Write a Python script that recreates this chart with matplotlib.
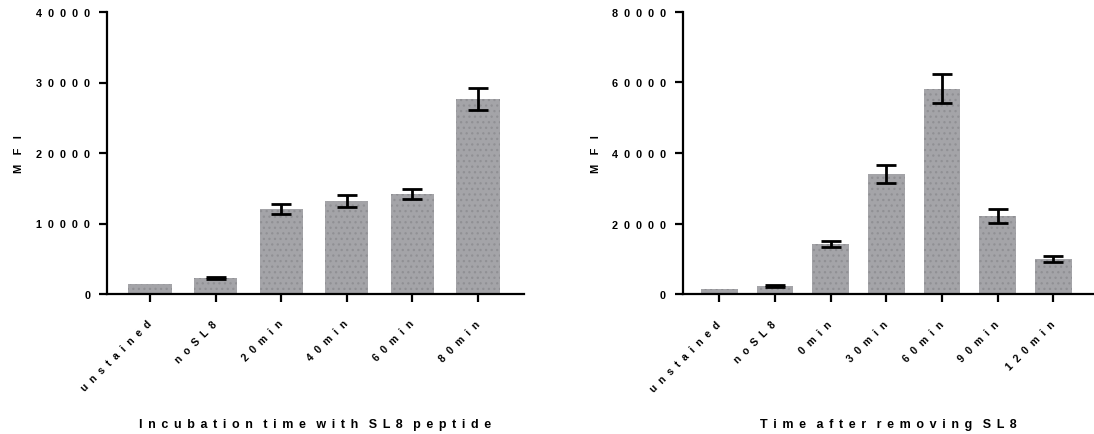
import matplotlib
matplotlib.use("Agg")
import matplotlib.pyplot as plt
import numpy as np

# ---- data ----
left_categories = ["unstained", "noSL8", "20min", "40min", "60min", "80min"]
left_values = [1400, 2270, 12060, 13200, 14180, 27660]
left_errors = [0, 200, 700, 850, 650, 1500]
left_yticks = [0, 10000, 20000, 30000, 40000]
left_xlabel = "Incubation time with SL8 peptide"

right_categories = ["unstained", "noSL8", "0min", "30min", "60min", "90min", "120min"]
right_values = [1500, 2440, 14250, 34080, 58150, 22100, 10000]
right_errors = [0, 300, 800, 2650, 4100, 2000, 800]
right_yticks = [0, 20000, 40000, 60000, 80000]
right_xlabel = "Time after removing SL8"

ylabel = "MFI"

# ---- style ----
plt.rcParams['font.family'] = ['Liberation Sans', 'DejaVu Sans']
plt.rcParams['font.weight'] = 'bold'
plt.rcParams['hatch.linewidth'] = 0.9

BAR = '#a4a4a8'
DOT = '#909094'


def spaced(s, sep="  ", word_gap="     "):
    words = s.split(" ")
    return word_gap.join(sep.join(list(w)) for w in words)


fig = plt.figure(figsize=(10.94, 4.35), dpi=100)
W, H = 1094, 435


def make_axes(x0, x1, y_top, y_bot):
    return fig.add_axes([x0 / W, 1 - y_bot / H, (x1 - x0) / W, (y_bot - y_top) / H])


def draw(ax, cats, vals, errs, yticks, xlabel, xlim):
    x = np.arange(len(cats))
    ax.bar(x, vals, width=0.66, color=BAR, edgecolor=DOT, linewidth=0, hatch='...', zorder=2)
    ax.errorbar(x[1:], vals[1:], yerr=errs[1:], fmt='none', ecolor='black',
                elinewidth=2.0, capsize=7.5, capthick=2.0, zorder=3)
    ax.set_xlim(*xlim)
    ax.set_ylim(0, yticks[-1])
    ax.set_yticks(yticks)
    ax.set_yticklabels([spaced(str(t)) for t in yticks], fontsize=7.8, fontweight='bold')
    ax.set_xticks(x)
    ax.set_xticklabels([spaced(c) for c in cats], fontsize=7.5, fontweight='bold',
                       rotation=45, ha='right', va='center', rotation_mode='anchor')
    for sp in ['top', 'right']:
        ax.spines[sp].set_visible(False)
    for sp in ['left', 'bottom']:
        ax.spines[sp].set_linewidth(1.6)
    ax.tick_params(axis='both', direction='out', length=6, width=1.6, color='black')
    ax.tick_params(axis='y', pad=6)
    ax.tick_params(axis='x', pad=14)
    ax.set_ylabel(spaced(ylabel, sep="   "), fontsize=8, fontweight='bold')
    ax.yaxis.set_label_coords(-0.21, 0.5)
    ax.yaxis.label.set_va('center')
    ax.set_xlabel(spaced(xlabel, sep=" \u2006", word_gap="   "), fontsize=9, fontweight='bold')
    ax.xaxis.set_label_coords(0.5, -0.46)
    ax.xaxis.label.set_va('center')
    ax.set_facecolor('none')


ax1 = make_axes(107, 524, 13, 295)
draw(ax1, left_categories, left_values, left_errors, left_yticks, left_xlabel, (-0.655, 5.70))

ax2 = make_axes(682.7, 1094, 12.7, 295.3)
draw(ax2, right_categories, right_values, right_errors, right_yticks, right_xlabel, (-0.657, 6.73))

fig.savefig("out.png", dpi=100)
